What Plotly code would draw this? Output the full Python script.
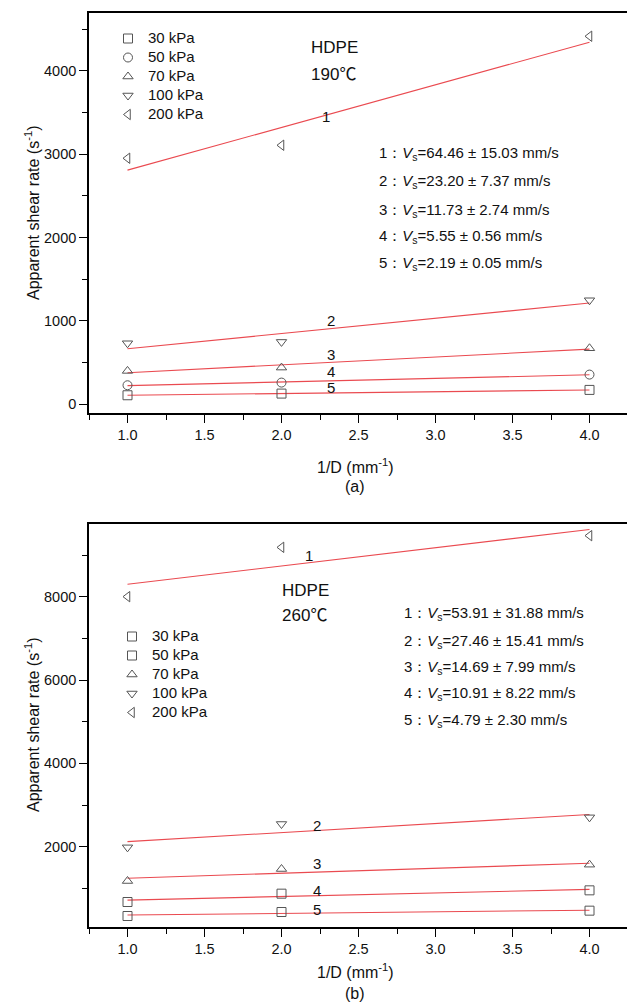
import numpy as np
import plotly.graph_objects as go

# ---------------- data ----------------
inv_d = [1.0, 2.0, 4.0]                      # 1/D (mm^-1)
pressures = ["30 kPa", "50 kPa", "70 kPa", "100 kPa", "200 kPa"]

# panel (a): HDPE 190 ℃, apparent shear rate (s^-1)
a_30 = [108, 128, 172]
a_50 = [228, 260, 356]
a_70 = [400, 440, 672]
a_100 = [732, 748, 1248]
a_200 = [2952, 3108, 4416]

# panel (b): HDPE 260 ℃
b_30 = [336, 432, 464]
b_50 = [672, 872, 952]
b_70 = [1176, 1464, 1568]
b_100 = [1984, 2544, 2704]
b_200 = [8000, 9184, 9464]

line_ids = ["1", "2", "3", "4", "5"]          # 1 = 200 kPa ... 5 = 30 kPa
vs_a = ["64.46 ± 15.03", "23.20 ± 7.37", "11.73 ± 2.74", "5.55 ± 0.56", "2.19 ± 0.05"]
vs_b = ["53.91 ± 31.88", "27.46 ± 15.41", "14.69 ± 7.99", "10.91 ± 8.22", "4.79 ± 2.30"]

# ---------------- layout geometry ----------------
W, H = 627, 1004
L, R, T, B = 89, 0, 13, 77
PW, PH = W - L - R, H - T - B
TOP_BOT_PX, BOT_TOP_PX = 413, 524


def px(xp):
    return (xp - L) / PW


def py(yp):
    return (H - B - yp) / PH


FONT = "Liberation Sans, Arial, sans-serif"
CJK = '<span style="font-family:Noto Sans CJK SC">'
MARK_COL = "#555555"
LINE_COL = "#ea4a50"
TXT = "#111111"
XR = [0.75, 0.75 + PW / 154.0]

fig = go.Figure()

series_a = [a_30, a_50, a_70, a_100, a_200]
series_b = [b_30, b_50, b_70, b_100, b_200]
sym_a = ["square-open", "circle-open", "triangle-up-open", "triangle-down-open", "triangle-left-open"]
sym_b = ["square-open", "square-open", "triangle-up-open", "triangle-down-open", "triangle-left-open"]


def add_panel(series, syms, xa, ya, leg):
    xs = np.array(inv_d)
    # fit lines (least squares through each pressure's points)
    for s in series:
        k, b0 = np.polyfit(xs, np.array(s, dtype=float), 1)
        fig.add_trace(go.Scatter(x=xs, y=k * xs + b0, mode="lines",
                                 line=dict(color=LINE_COL, width=1.1),
                                 showlegend=False, hoverinfo="skip",
                                 xaxis=xa, yaxis=ya))
    for name, s, sym in zip(pressures, series, syms):
        fig.add_trace(go.Scatter(x=inv_d, y=s, mode="markers", name=
                                 '<span style="font-size:15px">' + name + "</span>",
                                 marker=dict(symbol=sym, size=9, color=MARK_COL,
                                             line=dict(width=1, color=MARK_COL)),
                                 xaxis=xa, yaxis=ya, legend=leg))


add_panel(series_a, sym_a, "x", "y", "legend")
add_panel(series_b, sym_b, "x2", "y2", "legend2")

dom_a = [py(TOP_BOT_PX), 1.0]
dom_b = [0.0, py(BOT_TOP_PX)]

axis_common = dict(showline=True, linecolor="black", linewidth=1.6, ticks="outside",
                   ticklen=8, tickwidth=1.4, tickcolor="black", showgrid=False,
                   zeroline=False, tickfont=dict(family=FONT, size=14.5, color=TXT))

xcommon = dict(axis_common, range=XR, dtick=0.5, tick0=0, tickformat=".1f", mirror=True,
               minor=dict(dtick=0.25, tick0=0, ticklen=5, ticks="outside", tickcolor="black", tickwidth=1.2))

top_ticks = dict(range=XR, dtick=0.25, tick0=0, ticks="inside", ticklen=7, tickwidth=1.3,
                 tickcolor="black", showticklabels=False, showline=False, showgrid=False, zeroline=False,
                 side="top")

fig.update_layout(
    width=W, height=H, margin=dict(l=L, r=R, t=T, b=B),
    paper_bgcolor="white", plot_bgcolor="white",
    font=dict(family=FONT, color=TXT),
    xaxis=dict(xcommon, domain=[0, 1], anchor="y"),
    yaxis=dict(axis_common, domain=dom_a, anchor="x", range=[-105, 4695], dtick=1000, tick0=0,
               minor=dict(dtick=500, tick0=0, ticklen=5, ticks="outside", tickcolor="black", tickwidth=1.2)),
    xaxis2=dict(xcommon, domain=[0, 1], anchor="y2"),
    yaxis2=dict(axis_common, domain=dom_b, anchor="x2", range=[72, 9744], dtick=2000, tick0=0,
                minor=dict(dtick=1000, tick0=0, ticklen=5, ticks="outside", tickcolor="black", tickwidth=1.2)),
    # inside ticks on the top and right edges
    xaxis3=dict(top_ticks, overlaying="x", anchor="y"),
    xaxis4=dict(top_ticks, overlaying="x2", anchor="y2"),
    yaxis3=dict(range=[-105, 4695], dtick=500, tick0=0, ticks="inside", ticklen=7, tickwidth=1.3,
                tickcolor="black", showticklabels=False, showline=False, showgrid=False, zeroline=False,
                overlaying="y", anchor="x", side="right"),
    yaxis4=dict(range=[72, 9744], dtick=1000, tick0=0, ticks="inside", ticklen=7, tickwidth=1.3,
                tickcolor="black", showticklabels=False, showline=False, showgrid=False, zeroline=False,
                overlaying="y2", anchor="x2", side="right"),
    legend=dict(x=px(108), y=py(24), xanchor="left", yanchor="top", bgcolor="rgba(0,0,0,0)",
                font=dict(family=FONT, size=12, color=TXT), itemwidth=30, tracegroupgap=0),
    legend2=dict(x=px(112), y=py(622), xanchor="left", yanchor="top", bgcolor="rgba(0,0,0,0)",
                 font=dict(family=FONT, size=12, color=TXT), itemwidth=30, tracegroupgap=0),
    showlegend=True,
)

ann = []


def text(xp, yp, s, size=15, anchor="left", angle=0):
    ann.append(dict(x=px(xp), y=py(yp), xref="paper", yref="paper", text=s, showarrow=False,
                    xanchor=anchor, yanchor="middle", textangle=angle,
                    font=dict(family=FONT, size=size, color=TXT)))


# panel (a) texts
text(309, 48, "HDPE", 17)
text(309, 72, "190" + CJK + "℃</span>", 17)
for yy, lid, v in zip([153, 181, 211, 237, 263], line_ids, vs_a):
    text(377, yy, lid + "：<i>V</i><sub>s</sub>=" + v + " mm/s", 15)
# panel (b) texts
text(280, 590, "HDPE", 17)
text(280, 613, "260" + CJK + "℃</span>", 17)
for yy, lid, v in zip([613, 641, 667, 693, 720], line_ids, vs_b):
    text(402, yy, lid + "：<i>V</i><sub>s</sub>=" + v + " mm/s", 15)

# axis titles
text(32, 213, "Apparent shear rate (s<sup>-1</sup>)", 16, "center", -90)
text(32, 725, "Apparent shear rate (s<sup>-1</sup>)", 16, "center", -90)
text(355, 466, "1/D (mm<sup>-1</sup>)", 16, "center")
text(355, 487, "(a)", 16, "center")
text(355, 971, "1/D (mm<sup>-1</sup>)", 16, "center")
text(355, 993, "(b)", 16, "center")

# line numbers placed next to the fit lines (data coordinates)
lab_a = [(2.29, 3456), (2.32, 1000), (2.32, 600), (2.32, 388), (2.32, 200)]
lab_b = [(2.18, 9000), (2.23, 2520), (2.23, 1600), (2.23, 960), (2.23, 496)]
for (xx, yy), lid in zip(lab_a, line_ids):
    ann.append(dict(x=xx, y=yy, xref="x", yref="y", text=lid, showarrow=False,
                    font=dict(family=FONT, size=15, color=TXT)))
for (xx, yy), lid in zip(lab_b, line_ids):
    ann.append(dict(x=xx, y=yy, xref="x2", yref="y2", text=lid, showarrow=False,
                    font=dict(family=FONT, size=15, color=TXT)))

fig.update_layout(annotations=ann)
fig.write_html("out.html")
